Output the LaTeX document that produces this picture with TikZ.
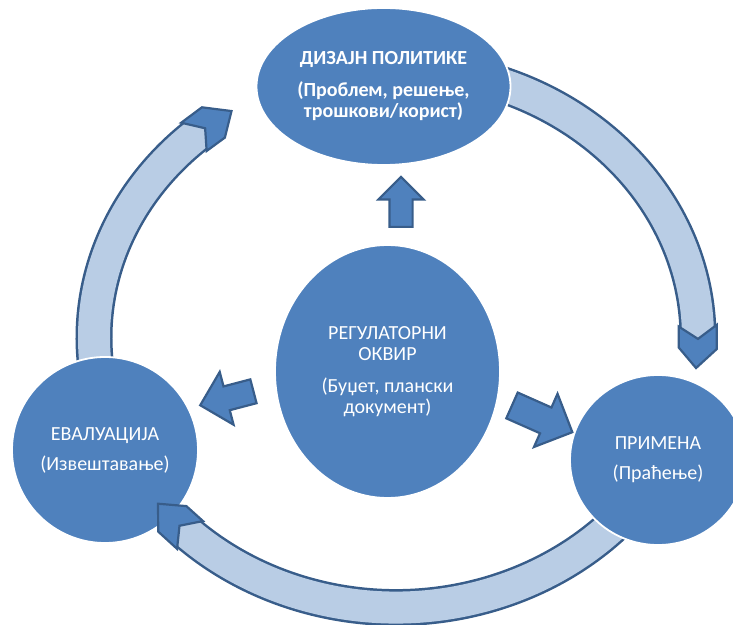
\documentclass[tikz,border=0pt]{standalone}
\usepackage{fontspec}
\setmainfont{Carlito}
\usetikzlibrary{shapes.geometric, shapes.arrows}

\definecolor{nodeblue}{HTML}{4F81BD}
\definecolor{ringlight}{HTML}{B9CDE5}
\definecolor{edgeblue}{HTML}{385D8A}

\tikzset{
  stage/.style={ellipse, fill=nodeblue, draw=white, line width=1.8pt,
    inner sep=0pt, text=white, align=center,
    font=\fontsize{20}{21}\selectfont},
  blockarrow/.style={single arrow, fill=nodeblue, draw=edgeblue,
    line width=2.2pt, inner xsep=0pt, line join=miter, anchor=tail},
  ringedge/.style={draw=edgeblue, line width=37pt},
  ringbody/.style={draw=ringlight, line width=32pt},
  ringhead/.style={fill=nodeblue, draw=edgeblue, line width=2.2pt, line join=miter}
}

\begin{document}
\begin{tikzpicture}[x=1pt, y=1pt]
  \clip (0,0) rectangle (733,624);
  % Ring: three arcs on one ellipse, running clockwise.
  \begin{scope}[shift={(396,286.5)}]
    \foreach \s/\e in {80/-0.5, -20/-136, 190/129} {
      \draw[ringedge] (\s:302 and 270)
        arc[start angle=\s, end angle=\e, x radius=302, y radius=270];
      \draw[ringbody] (\s:302 and 270)
        arc[start angle=\s, end angle=\e, x radius=302, y radius=270];
    }
  \end{scope}

  % Block arrows out of the frame.
  \node[blockarrow, rotate=90, minimum height=50pt, inner ysep=10.5pt,
    single arrow head extend=11pt] (toDesign) at (401,396) {};
  \node[blockarrow, rotate=194.7, minimum height=55pt, inner ysep=11.2pt,
    single arrow head extend=15pt] (toEvaluation) at (254.5,233) {};
  \node[blockarrow, rotate=-23.9, minimum height=66pt, inner ysep=13pt,
    single arrow head extend=15pt] (toImplementation) at (511,219) {};

  % Stages.
  \node[stage, minimum width=254pt, minimum height=157pt,
    font=\fontsize{20}{21}\selectfont\bfseries] (design) at (383.5,537.5)
    {ДИЗАЈН ПОЛИТИКЕ\\[11pt](Проблем, решење,\\трошкови/корист)};
  \node[stage, minimum width=225pt, minimum height=253pt] (frame) at (387.5,252.5)
    {РЕГУЛАТОРНИ\\ОКВИР\\[11pt](Буџет, плански\\документ)};
  \node[stage, minimum width=186pt, minimum height=186pt] (evaluation) at (105,174)
    {ЕВАЛУАЦИЈА\\[9pt](Извештавање)};
  \node[stage, minimum width=176pt, minimum height=170pt] (implementation) at (658,164)
    {ПРИМЕНА\\[9pt](Праћење)};

  % Heads of the ring arcs.
  \begin{scope}[shift={(396,286.5)}]
    \foreach \hb in {2.5, 132, -133} {
      \pgfmathsetmacro\hn{\hb-2.8}
      \pgfmathsetmacro\hf{\hb-4.8}
      \pgfmathsetmacro\ht{\hb-9}
      \filldraw[ringhead] (\hb:321 and 289) -- (\hn:302 and 270)
        -- (\hb:283 and 251) -- (\hf:283 and 251) -- (\ht:302 and 270)
        -- (\hf:321 and 289) -- cycle;
    }
  \end{scope}
\end{tikzpicture}
\end{document}
